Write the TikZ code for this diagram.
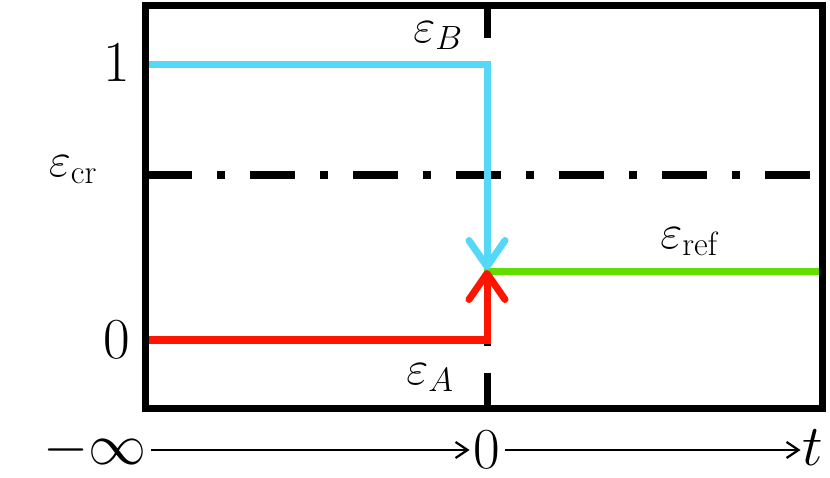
\documentclass[tikz,border=0pt]{standalone}
\usepackage{fix-cm}
\usetikzlibrary{arrows.meta}
\definecolor{cb}{HTML}{55D8F8}
\definecolor{cr}{HTML}{FF1400}
\definecolor{cg}{HTML}{62DD00}
\begin{document}
\begin{tikzpicture}[x=1pt,y=-1pt,
  lbl/.style={inner sep=0pt,font=\fontsize{48}{56}\selectfont},
  big/.style={inner sep=0pt,font=\fontsize{58}{66}\selectfont},
  ax/.style={line width=2.2pt,-{Straight Barb[length=12pt,width=16pt,line width=2.2pt]}}]
\useasboundingbox (0,0) rectangle (830,478);
% vertical dashed pieces
\draw[line width=7pt] (487,5) -- (487,38) (487,311) -- (487,346) (487,373) -- (487,408);
% dash-dot
\draw[line width=8pt,dash pattern=on 45pt off 25pt on 8pt off 25pt] (147,175) -- (820,175);
% curves
\coordinate (m) at (487,270);
\draw[cg,line width=7pt] (484,272) -- (820,272);
\draw[cb,line width=7pt,line join=miter,-{Straight Barb[length=26pt,width=36pt,line width=7pt,round]}] (147,65) -- (487,65) -- (m);
\draw[cr,line width=7pt,line join=miter,-{Straight Barb[length=26pt,width=36pt,line width=7pt,round]}] (147,340) -- (487,340) -- (m);
% frame
\draw[line width=7pt] (145,6) rectangle (822,408);
% labels
\node[big] (one) at (117,63) {$1$};
\node[big] (zero) at (117,340) {$0$};
\node[lbl] (ecr) at (73,170) {$\varepsilon_{\rm cr}$};
\node[lbl] (eb) at (438,36) {$\varepsilon_B$};
\node[lbl] (ea) at (430,378) {$\varepsilon_A$};
\node[lbl] (eref) at (690,242) {$\varepsilon_{\rm ref}$};
% axis
\node[big] (minf) at (95,450) {$-\infty$};
\node[big] (z) at (487,450) {$0$};
\node[big] (t) at (813,448) {$t$};
\draw[ax] (minf.east |- z.center) ++(4,0) -- ([xshift=-4pt]z.west);
\draw[ax] ([xshift=4pt]z.east) -- ([xshift=-2pt]z.center -| t.west);
\end{tikzpicture}
\end{document}
